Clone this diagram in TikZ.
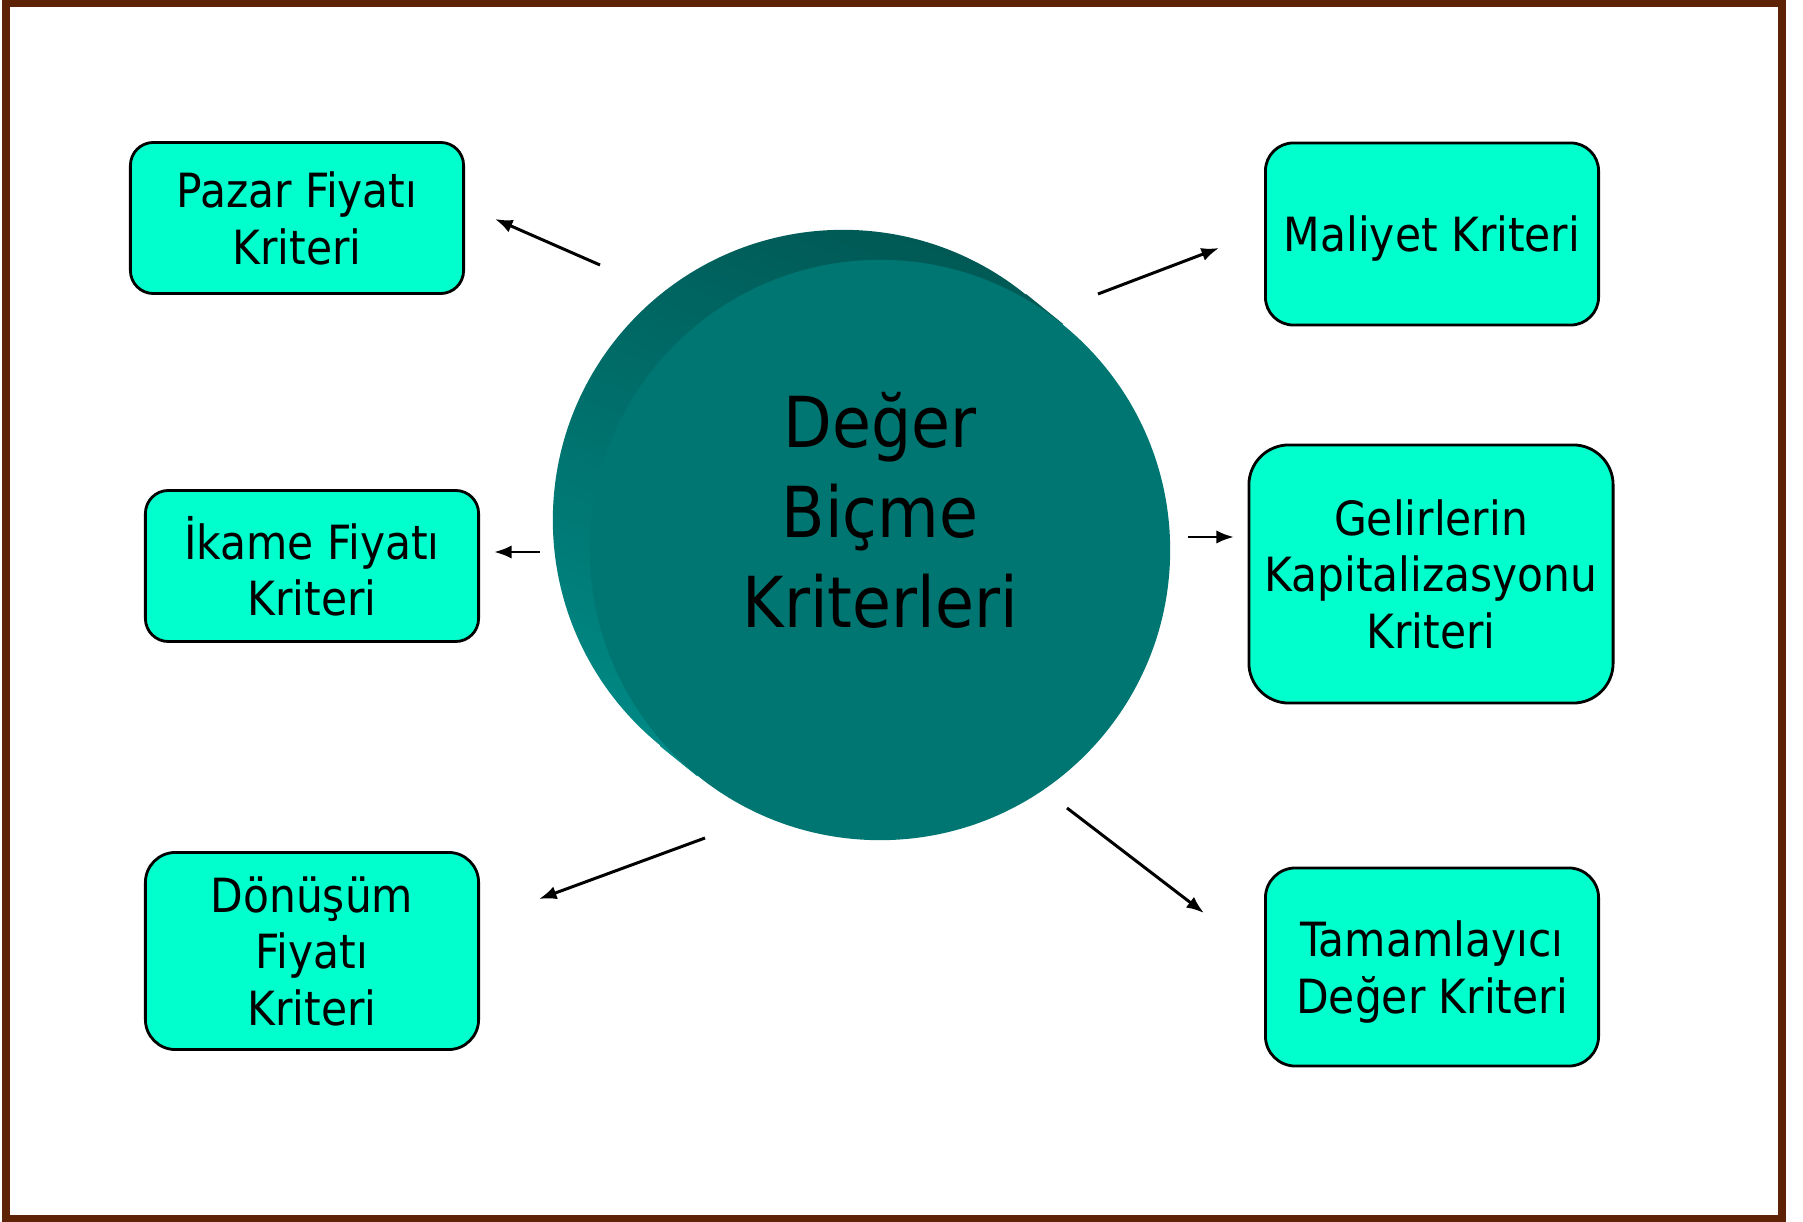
\documentclass[tikz,border=0pt]{standalone}
\usepackage{fontspec}
\setmainfont{DejaVu Sans Condensed}
\usetikzlibrary{arrows.meta}
\definecolor{framebrown}{HTML}{5E2306}
\definecolor{boxgreen}{HTML}{00FFCC}
\definecolor{discteal}{HTML}{007672}
\definecolor{rimdark}{HTML}{005955}
\definecolor{rimlight}{HTML}{008A86}

\begin{document}
\begin{tikzpicture}[x=0.01cm,y=-0.01cm,
  crit/.style={shape=rectangle,draw,line width=0.8pt,fill=boxgreen,align=center,
    inner sep=0pt,text depth=0pt,minimum width=3.33cm,font=\fontsize{13.4}{16}\selectfont},
  arr/.style={-{Latex[length=5pt,width=3.8pt]},line width=0.85pt}]

\useasboundingbox (0,0) rectangle (1803,1222);
\draw[framebrown,line width=0.08cm] (6,3.5) rectangle (1782,1219);

\node(back) at (843,520)[shape=circle,minimum size=5.8cm,inner sep=0pt]{};
\node(front) at (880,550)[shape=circle,minimum size=5.8cm,inner sep=0pt]{};
\shade[top color=rimdark,bottom color=rimlight,shading angle=-20]
  (back.center) circle[radius=2.9cm]
  (back.51) -- (back.231) -- (front.231) -- (front.51) -- cycle;
\fill[discteal] (front.center) circle[radius=2.9cm];
\node(deger) at (880,510)[align=center,inner sep=0pt,text depth=0pt,
  font=\fontsize{20}{25.6}\selectfont]{Değer\\Biçme\\Kriterleri};

\node(pazar) at (297,218)[crit,minimum height=1.51cm,rounded corners=0.23cm]{Pazar Fiyatı\\Kriteri};
\node(ikame) at (312,566)[crit,minimum height=1.51cm,rounded corners=0.23cm]{İkame Fiyatı\\Kriteri};
\node(donusum) at (312,951)[crit,minimum height=1.97cm,rounded corners=0.3cm]{Dönüşüm\\Fiyatı\\Kriteri};
\node(maliyet) at (1432,234)[crit,minimum height=1.82cm,rounded corners=0.28cm]{Maliyet Kriteri};
\node(gelir) at (1431,574)[crit,minimum width=3.64cm,minimum height=2.58cm,rounded corners=0.4cm]{Gelirlerin\\Kapitalizasyonu\\Kriteri};
\node(tamam) at (1432,967)[crit,minimum height=1.98cm,rounded corners=0.3cm]{Tamamlayıcı\\Değer Kriteri};

\coordinate(p0) at (600,265); \coordinate(p1) at (495,219);
\coordinate(m0) at (1098,294); \coordinate(m1) at (1219,248);
\coordinate(i0) at (540,552); \coordinate(i1) at (494,552);
\coordinate(g0) at (1188,537); \coordinate(g1) at (1234,537);
\coordinate(d0) at (705,838); \coordinate(d1) at (539,899);
\coordinate(t0) at (1067,808); \coordinate(t1) at (1204,913);

\path [arr]
  (p0)      edge      (p1)
  (m0)      edge      (m1)
  (i0)      edge      (i1)
  (g0)      edge      (g1)
  (d0)      edge      (d1)
  (t0)      edge      (t1);

\end{tikzpicture}
\end{document}
